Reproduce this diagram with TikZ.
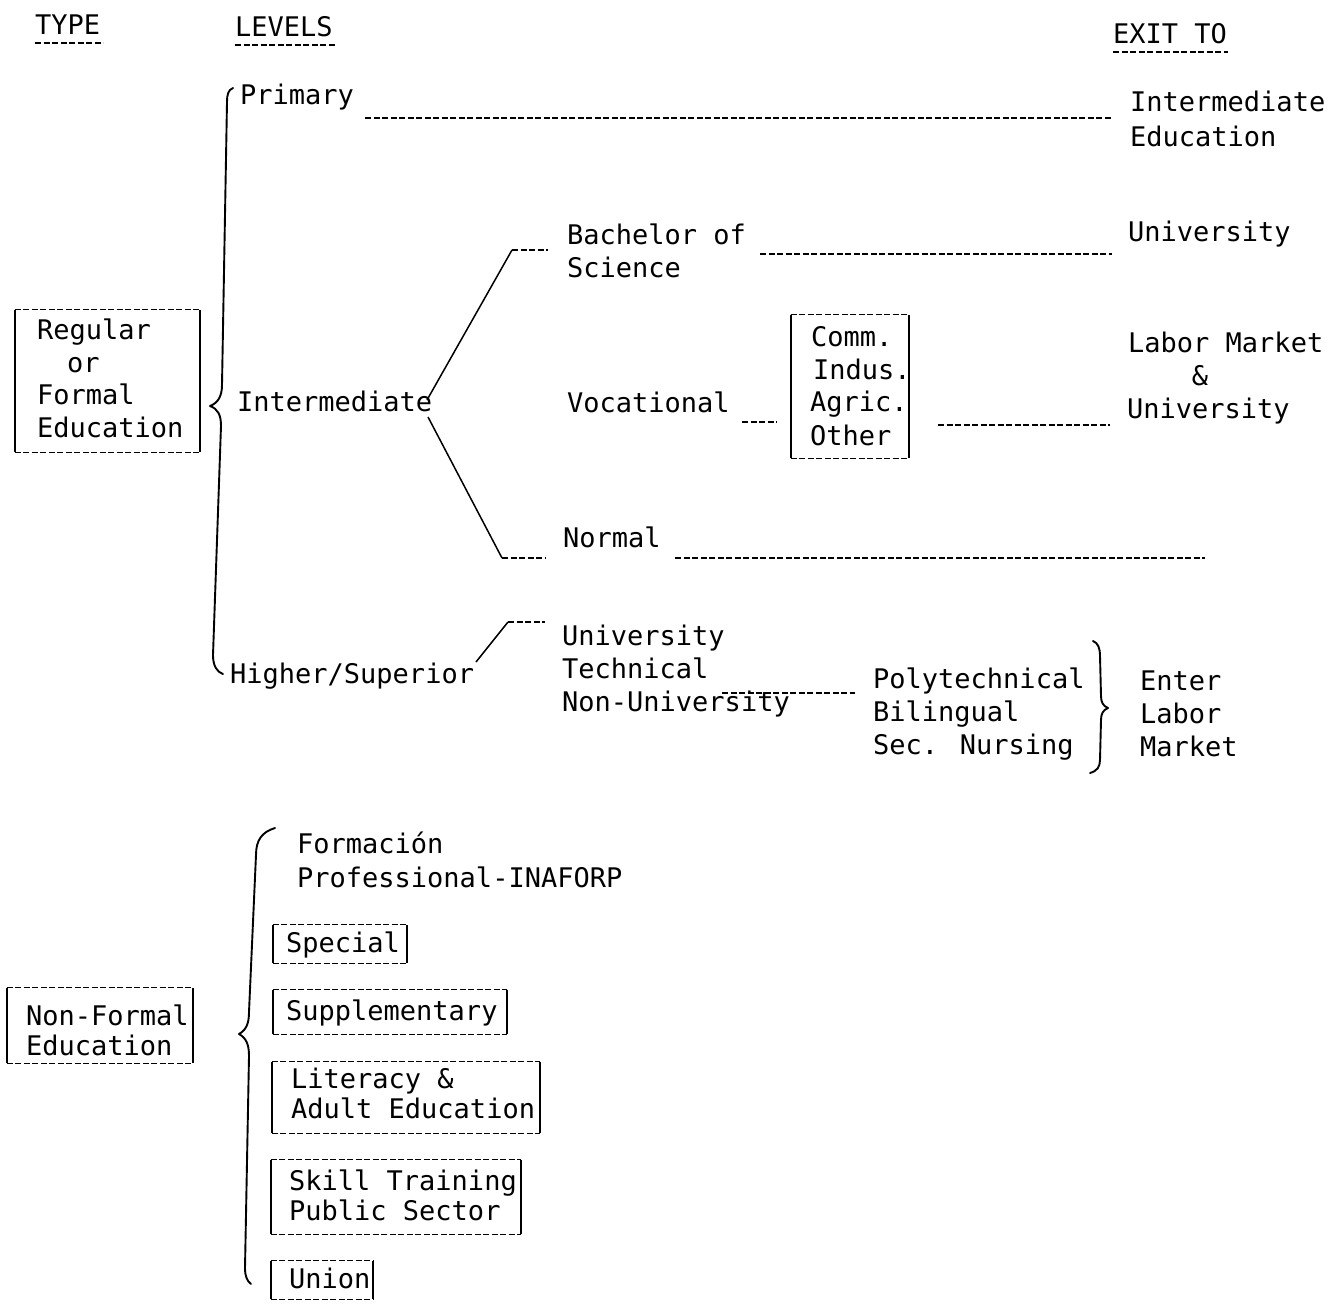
\documentclass[tikz,border=0pt]{standalone}
\usepackage{fontspec}
\setmainfont{DejaVu Sans Mono}
\setmonofont{DejaVu Sans Mono}
\newcommand\mydbox[1]{%
  \draw[dsh] (#1.north west) -- (#1.north east) (#1.south west) -- (#1.south east);
  \draw[sol] (#1.north west) -- (#1.south west) (#1.north east) -- (#1.south east);}
\tikzset{
  txt/.style={anchor=base west, inner sep=0pt, font=\fontsize{27}{33}\selectfont},
  dsh/.style={line width=1.1pt, dash pattern=on 6pt off 2.5pt},
  sol/.style={line width=1.5pt},
  brace/.style={line width=1.9pt, line cap=round, line join=round},
  frm/.style={draw=none, inner sep=0pt},
}
\begin{document}
\begin{tikzpicture}[x=1pt, y=-1pt]
\fill[white] (0,0) rectangle (1336,1305);
\useasboundingbox (0,0) rectangle (1336,1305);

% headers
\node[txt] (htype) at (35,35) {TYPE};
\node[txt] (hlev) at (235,37) {LEVELS};
\node[txt] (hexit) at (1113,44) {EXIT TO};
\coordinate (u1a) at (35,43);  \coordinate (u1b) at (103,43);
\coordinate (u2a) at (235,45); \coordinate (u2b) at (336,45);
\coordinate (u3a) at (1113,52); \coordinate (u3b) at (1228,52);
\draw[dsh, line width=1.4pt] (u1a) -- (u1b);
\draw[dsh, line width=1.4pt] (u2a) -- (u2b);
\draw[dsh, line width=1.4pt] (u3a) -- (u3b);

% type boxes
\node[frm, minimum width=185pt, minimum height=142pt] (regbox) at (107.5,381) {};
\mydbox{regbox}
\node[txt] (reg1) at (37,340) {Regular};
\node[txt] (reg2) at (67,373) {or};
\node[txt] (reg3) at (37,405) {Formal};
\node[txt] (reg4) at (37,437) {Education};

\node[frm, minimum width=186pt, minimum height=75pt] (nfbox) at (100,1025.5) {};
\mydbox{nfbox}
\node[txt] (nf1) at (26,1025) {Non-Formal};
\node[txt] (nf2) at (26,1055) {Education};

% braces
\draw[brace] (233,88) .. controls (228,90) and (227,95) .. (227,102) -- (222,385)
  .. controls (222,396) and (218,403) .. (210,406)
  .. controls (218,409) and (221,415) .. (221,426) -- (213,655)
  .. controls (213,666) and (217,672) .. (223,674);
\draw[brace] (275,828) .. controls (262,832) and (256,840) .. (256,855) -- (249,1012)
  .. controls (249,1024) and (246,1030) .. (239,1034)
  .. controls (246,1038) and (249,1044) .. (249,1056) -- (245,1268)
  .. controls (245,1276) and (247,1281) .. (251,1284);
\draw[brace] (1093,641) .. controls (1098,643) and (1100,648) .. (1100,656) -- (1101,696)
  .. controls (1101,702) and (1103,706) .. (1108,708)
  .. controls (1103,710) and (1101,714) .. (1101,720) -- (1100,760)
  .. controls (1100,767) and (1097,771) .. (1090,773);

% levels
\node[txt] (prim) at (240,105) {Primary};
\node[txt] (inter) at (237,412) {Intermediate};
\node[txt] (higher) at (230,683) {Higher/Superior};

% second column
\node[txt] (bach1) at (567,245) {Bachelor of};
\node[txt] (bach2) at (567,278) {Science};
\node[txt] (voc) at (567,413) {Vocational};
\node[txt] (norm) at (563,547) {Normal};
\node[txt] (univ1) at (562,645) {University};
\node[txt] (univ2) at (562,678) {Technical};
\node[txt] (univ3) at (562,711) {Non-University};

\node[frm, minimum width=118pt, minimum height=143pt] (commbox) at (850,386.5) {};
\mydbox{commbox}
\node[txt] (c1) at (811,347) {Comm.};
\node[txt] (c2) at (813,380) {Indus.};
\node[txt] (c3) at (810,412) {Agric.};
\node[txt] (c4) at (810,445) {Other};

\node[txt] (poly1) at (873,688) {Polytechnical};
\node[txt] (poly2) at (873,721) {Bilingual};
\node[txt] (poly3) at (873,754) {Sec. Nursing};

% exits
\node[txt] (ex1a) at (1130,112) {Intermediate};
\node[txt] (ex1b) at (1130,147) {Education};
\node[txt] (ex2) at (1128,242) {University};
\node[txt] (ex3a) at (1128,353) {Labor Market};
\node[txt, anchor=base] (ex3b) at (1200,386) {\&};
\node[txt] (ex3c) at (1127,418) {University};
\node[txt] (ex4a) at (1140,690) {Enter};
\node[txt] (ex4b) at (1140,723) {Labor};
\node[txt] (ex4c) at (1140,756) {Market};

% connector points
\coordinate (p1) at (365,118);  \coordinate (p2) at (1112,118);
\coordinate (b0) at (427,400);  \coordinate (b1) at (512,250); \coordinate (b2) at (548,250);
\coordinate (b3) at (760,254);  \coordinate (b4) at (1112,254);
\coordinate (v1) at (742,422);  \coordinate (v2) at (777,422);
\coordinate (v3) at (938,425);  \coordinate (v4) at (1110,425);
\coordinate (n0) at (428,417);  \coordinate (n1) at (502,558); \coordinate (n2) at (545,558);
\coordinate (n3) at (675,558);  \coordinate (n4) at (1205,558);
\coordinate (h0) at (476,662);  \coordinate (h1) at (508,622); \coordinate (h2) at (545,622);
\coordinate (t1) at (722,693);  \coordinate (t2) at (855,693);

\draw[dsh] (p1) -- (p2);
\draw[sol] (b0) -- (b1);
\draw[dsh, line width=1.4pt] (b1) -- (b2);
\draw[dsh] (b3) -- (b4);
\draw[dsh] (v1) -- (v2);
\draw[dsh] (v3) -- (v4);
\draw[sol] (n0) -- (n1);
\draw[dsh, line width=1.4pt] (n1) -- (n2);
\draw[dsh] (n3) -- (n4);
\draw[sol] (h0) -- (h1);
\draw[dsh, line width=1.4pt] (h1) -- (h2);
\draw[dsh] (t1) -- (t2);

% non-formal items
\node[txt] (form1) at (297,853) {Formación};
\node[txt] (form2) at (297,887) {Professional-INAFORP};

\node[frm, minimum width=134pt, minimum height=38pt] (spbox) at (340,944) {};
\mydbox{spbox}
\node[txt] (sp) at (286,952) {Special};

\node[frm, minimum width=234pt, minimum height=44pt] (supbox) at (390,1012) {};
\mydbox{supbox}
\node[txt] (sup) at (286,1020) {Supplementary};

\node[frm, minimum width=268pt, minimum height=71pt] (litbox) at (406,1097.5) {};
\mydbox{litbox}
\node[txt] (lit1) at (291,1088) {Literacy \&};
\node[txt] (lit2) at (291,1118) {Adult Education};

\node[frm, minimum width=250pt, minimum height=74pt] (skbox) at (396,1197) {};
\mydbox{skbox}
\node[txt] (sk1) at (289,1190) {Skill Training};
\node[txt] (sk2) at (289,1220) {Public Sector};

\node[frm, minimum width=102pt, minimum height=38pt] (unbox) at (322,1280) {};
\mydbox{unbox}
\node[txt] (un) at (289,1288) {Union};
\end{tikzpicture}
\end{document}
